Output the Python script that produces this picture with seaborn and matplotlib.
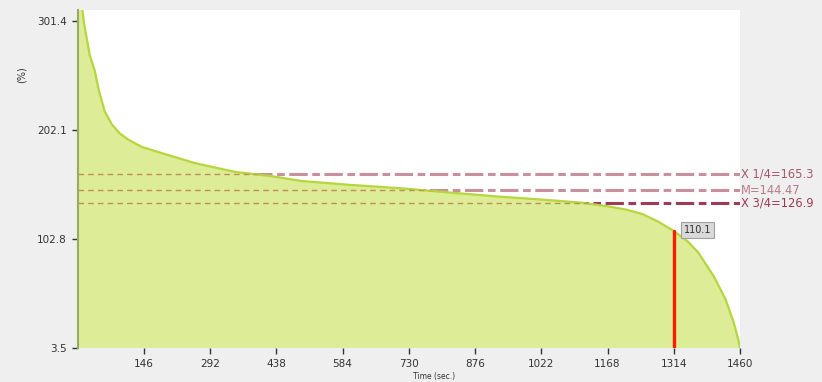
import matplotlib
matplotlib.use("Agg")
import matplotlib.pyplot as plt
import seaborn as sns
import pandas as pd

# ---- data ----
rank = [1, 8, 14, 21, 27, 38, 47, 60, 76, 93, 113, 142, 186, 258, 346, 428, 494,
        604, 713, 823, 933, 1043, 1109, 1170, 1210, 1245, 1280, 1314, 1345, 1367,
        1402, 1428, 1446, 1457, 1460]
value = [360, 322, 300, 284, 270, 256, 238, 219, 207, 199, 193, 186.6, 181, 172,
         164, 160, 155.6, 152, 149, 145, 141.3, 138.1, 135.9, 132.5, 129.5, 125.5,
         118.5, 110.1, 100.5, 91, 69, 48, 27, 10, 3.5]

quant_labels = ["X 1/4=165.3", "M=144.47", "X 3/4=126.9"]
quant_levels = [162.0, 147.4, 135.6]   # drawn positions as seen in the picture
marker_rank = 1314
marker_value = 110.1
marker_label = "110.1"

yticks = [3.5, 102.8, 202.1, 301.4]
xticks = [146, 292, 438, 584, 730, 876, 1022, 1168, 1314, 1460]

df = pd.DataFrame({"rank": rank, "value": value})

sns.set_theme(style="white")
plt.rcParams["font.family"] = ["DejaVu Sans"]

W, H = 822, 382
fig = plt.figure(figsize=(W / 100, H / 100), dpi=100, facecolor="#efefef")
L, R, T, B = 78, 740, 10, 348
ax = fig.add_axes([L / W, 1 - B / H, (R - L) / W, (B - T) / H])
ax.set_facecolor("white")

# quantile lines (thick, under the fill)
q_colors = ["#c8909d", "#c8909d", "#a23a55"]
for lvl, c in zip(quant_levels, q_colors):
    ax.axhline(lvl, color=c, lw=2.2, ls=(0, (6, 1.5, 2.5, 1.5)), zorder=1)

fill = ax.fill_between(df["rank"], 3.5, df["value"], color="#dcec97", lw=0, zorder=2)
sns.lineplot(data=df, x="rank", y="value", ax=ax, color="#b5d63c", lw=1.6, zorder=3)

# thin brownish dashes visible inside the fill
clip_path = fill.get_paths()[0]
for lvl in quant_levels:
    ln = ax.axhline(lvl, color="#bf8f55", lw=1.0, ls=(0, (4, 3)), zorder=3)
    ln.set_clip_path(clip_path, ax.transData)

# red marker line
ax.plot([marker_rank, marker_rank], [3.5, marker_value], color="#ff1a00", lw=2.4, zorder=4)
ax.annotate(marker_label, xy=(marker_rank, marker_value), xytext=(7, 1),
            textcoords="offset points", fontsize=7, color="#333333", va="center",
            ha="left",
            bbox=dict(boxstyle="square,pad=0.3", fc="#d9d9d9", ec="#a0a0a0", lw=0.8),
            zorder=5)

# labels for quantiles at the right
for lvl, lab, c in zip(quant_levels, quant_labels, ["#a8576a", "#b87a88", "#9a3a52"]):
    ax.text(1.001, lvl, lab, transform=ax.get_yaxis_transform(), fontsize=8.3,
            color=c, va="center", ha="left", clip_on=False)

ax.set_xlim(1, 1460)
ax.set_ylim(3.5, 311.4)
ax.set_xticks(xticks)
ax.set_xticklabels([str(t) for t in xticks])
ax.set_yticks(yticks)
ax.set_yticklabels([str(t) for t in yticks])
ax.tick_params(axis="both", labelsize=7.5, colors="#333333", length=4, width=1,
               direction="out", left=True, bottom=True, pad=4)
ax.tick_params(axis="x", pad=4)
for s in ["top", "right", "bottom"]:
    ax.spines[s].set_visible(False)
ax.spines["left"].set_color("#9aaa66")
ax.spines["left"].set_linewidth(1.5)
ax.set_xlabel("")
ax.set_ylabel("")

fig.text(434 / W, 1 - 377 / H, "Time (sec.)", fontsize=5.5, color="#333333",
         ha="center", va="center")
fig.text(22 / W, 1 - 75 / H, "(%)", fontsize=7, color="#333333", rotation=90,
         ha="center", va="center")

fig.savefig("out.png", dpi=100, facecolor=fig.get_facecolor())
